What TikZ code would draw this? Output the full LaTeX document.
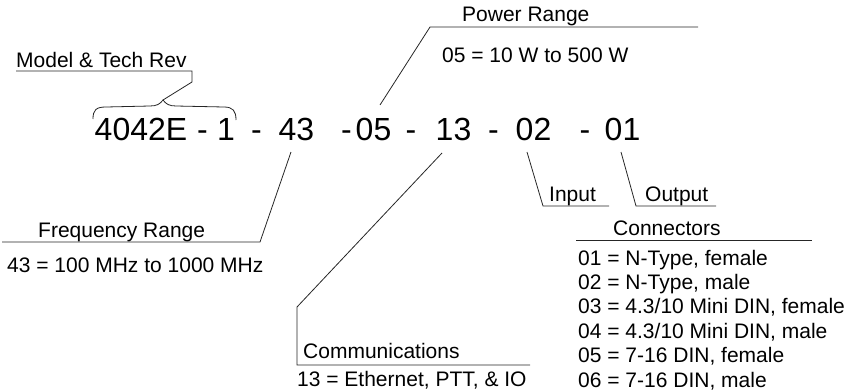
\documentclass[tikz,border=0pt]{standalone}
\usepackage{fontspec}
\setmainfont{Liberation Sans}
\begin{document}
\begin{tikzpicture}[x=1pt,y=-1pt,
  lbl/.style={font=\fontsize{21}{25}\selectfont, inner sep=0pt, anchor=base west},
  code/.style={font=\fontsize{32}{38}\selectfont, inner sep=0pt, anchor=base},
  lead/.style={draw=black!85, line width=0.8pt, line join=miter}]
\path[use as bounding box] (0,0) rectangle (858,391);

% part number, piece by piece
\node[code] (model) at (141,140) {4042E};
\node[code] (d1)    at (202.5,140) {-};
\node[code] (rev)   at (226,140) {1};
\node[code] (d2)    at (256.5,140) {-};
\node[code] (freq)  at (296.5,140) {43};
\node[code] (d3)    at (346.5,140) {-};
\node[code] (pwr)   at (373.5,140) {05};
\node[code] (d4)    at (411,140) {-};
\node[code] (comm)  at (453.5,140) {13};
\node[code] (d5)    at (493.5,140) {-};
\node[code] (inp)   at (533.5,140) {02};
\node[code] (d6)    at (585,140) {-};
\node[code] (outp)  at (622.5,140) {01};

% Model & Tech Rev
\node[lbl] (mtr) at (16,67) {Model \& Tech Rev};
\draw[lead] (93,119) .. controls (93,110) and (96,107) .. (106,107)
  -- (150,106) .. controls (157,106) and (160,104) .. (163,100)
  .. controls (166,104) and (169,106) .. (176,106)
  -- (224,107) .. controls (233,107) and (236,111) .. (236,120);
\coordinate (tip) at (163,100);
\coordinate (mtrA) at (192,82);
\coordinate (mtrB) at (192,71);
\coordinate (mtrC) at (16,71);
\draw[lead] (tip) -- (mtrA) -- (mtrB) -- (mtrC);

% Power Range
\node[lbl] (pwrT) at (462,21) {Power Range};
\node[lbl] (pwrV) at (442,62) {05 = 10 W to 500 W};
\coordinate (pwrA) at (380,105);
\coordinate (pwrB) at (430,27);
\coordinate (pwrC) at (698,27);
\draw[lead] (pwrA) -- (pwrB) -- (pwrC);

% Frequency Range
\node[lbl] (frqT) at (38,237) {Frequency Range};
\node[lbl] (frqV) at (7,272) {43 = 100 MHz to 1000 MHz};
\coordinate (frqA) at (291,152);
\coordinate (frqB) at (260,242);
\coordinate (frqC) at (2,242);
\draw[lead] (frqA) -- (frqB) -- (frqC);

% Communications
\node[lbl] (comT) at (303,358) {Communications};
\node[lbl] (comV) at (297,386) {13 = Ethernet, PTT, \& IO};
\coordinate (comA) at (442,153);
\coordinate (comB) at (297,307);
\coordinate (comC) at (297,365);
\coordinate (comD) at (530,365);
\draw[lead] (comA) -- (comB) -- (comC) -- (comD);

% Input / Output connectors
\node[lbl] (inT) at (549,201) {Input};
\node[lbl] (outT) at (645,201) {Output};
\coordinate (inA) at (527,152);
\coordinate (inB) at (543,206);
\coordinate (inC) at (609,206);
\coordinate (outA) at (621,152);
\coordinate (outB) at (636,206);
\coordinate (outC) at (716,206);
\draw[lead] (inA) -- (inB) -- (inC);
\draw[lead] (outA) -- (outB) -- (outC);

\node[lbl] (conT) at (613,235) {Connectors};
\coordinate (conL) at (576,240);
\coordinate (conR) at (812,240);
\draw[lead] (conL) -- (conR);
\node[lbl] (c1) at (578,265.0) {01 = N-Type, female};
\node[lbl] (c2) at (578,289.4) {02 = N-Type, male};
\node[lbl] (c3) at (578,313.8) {03 = 4.3/10 Mini DIN, female};
\node[lbl] (c4) at (578,338.2) {04 = 4.3/10 Mini DIN, male};
\node[lbl] (c5) at (578,362.6) {05 = 7-16 DIN, female};
\node[lbl] (c6) at (578,387.0) {06 = 7-16 DIN, male};
\end{tikzpicture}
\end{document}
